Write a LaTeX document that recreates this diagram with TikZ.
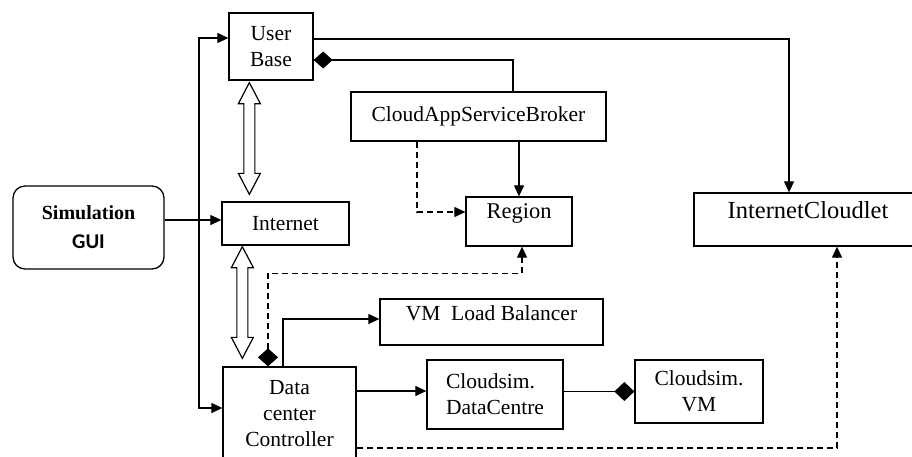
\documentclass[tikz,border=0pt]{standalone}
\usepackage{fontspec}
\setmainfont{Liberation Serif}
\newfontfamily\guifont{Carlito}
\usetikzlibrary{arrows.meta,calc}
\begin{document}
\begin{tikzpicture}[x=1pt,y=-1pt,
  box/.style={draw, line width=1.3pt, inner sep=0pt, align=center,
    font=\fontsize{21.5}{26}\selectfont},
  conn/.style={line width=1.2pt},
  arr/.style={conn,-{Triangle[length=11pt,width=10pt]}},
  darr/.style={arr, dash pattern=on 6pt off 4pt},
  diam/.style={conn,{Diamond[length=19pt,width=17pt]}-},
  hollow/.style={draw, line width=1.2pt, fill=white, line join=miter}
]
\useasboundingbox (0,0) rectangle (912,456);
\clip (0,0) rectangle (912,456);

% boxes
\node[box, rounded corners=12pt, minimum width=151pt, minimum height=83pt,
  font=\fontsize{20}{29}\selectfont] (gui) at (88.5,227.5)
  {{\bfseries Simulation}\\{\guifont\bfseries\fontsize{21}{29}\selectfont GUI}};
\node[box, minimum width=84pt, minimum height=67pt] (ub) at (271,46.5) {User\\Base};
\node[box, minimum width=127pt, minimum height=43pt] (inet) at (285.5,223.5) {Internet};
\node[box, minimum width=255pt, minimum height=49pt] (broker) at (478.5,116.5) {CloudAppServiceBroker};
\node[box, minimum width=106pt, minimum height=49pt, text height=16pt, text depth=23pt,
  font=\fontsize{22.5}{26}\selectfont] (region) at (519,221.5) {Region};
\node[box, minimum width=228pt, minimum height=53pt, text height=17pt, text depth=20pt,
  font=\fontsize{24.5}{28}\selectfont] (icl) at (808,219.5) {InternetCloudlet};
\node[box, minimum width=223pt, minimum height=46pt, text height=15pt, text depth=19pt] (vmlb) at (491.5,322) {VM\ \ Load Balancer};
\node[box, minimum width=133pt, minimum height=94pt] (dc) at (289.5,414) {Data\\center\\Controller};
\node[box, minimum width=136pt, minimum height=69pt, align=left] (dcen) at (495,394.5) {Cloudsim.\\DataCentre};
\node[box, minimum width=128pt, minimum height=63pt] (vm) at (699,391.5) {Cloudsim.\\VM};

% hollow double arrows
\coordinate (h1a) at ($(ub.south west)+(21,2)$);
\coordinate (h1b) at ($(inet.north west)+(28,-7)$);
\coordinate (h2a) at ($(inet.south west)+(21,1)$);
\coordinate (h2b) at ($(dc.north west)+(20,-8)$);
\foreach \a/\b in {h1a/h1b, h2a/h2b}{
  \draw[hollow] let \p1=(\a), \p2=(\b) in
    (\x1,\y1) -- (\x1+11pt,\y1-21pt) -- (\x1+5.5pt,\y1-21pt) -- (\x1+5.5pt,\y2+21pt)
    -- (\x1+11pt,\y2+21pt) -- (\x1,\y2) -- (\x1-11pt,\y2+21pt) -- (\x1-5.5pt,\y2+21pt)
    -- (\x1-5.5pt,\y1-21pt) -- (\x1-11pt,\y1-21pt) -- cycle;
}

% GUI connections
\coordinate (jt) at (199,220);
\draw[arr] (gui.east |- jt) -- ([yshift=3.5pt]inet.west);
\draw[arr] (jt) |- ([yshift=8.5pt]ub.west);
\draw[arr] (jt) |- ([yshift=6pt]dc.west);

% User Base connections
\draw[arr] ([yshift=7.5pt]ub.east) -| ([xshift=-19pt]icl.north);
\draw[diam] ([yshift=-13.5pt]ub.east) -| ([xshift=34.5pt]broker.north);

% Broker to Region
\draw[arr] (broker.south -| region.north) -- (region.north);
\draw[darr] ([xshift=-61.5pt]broker.south) |- ([yshift=9.5pt]region.west);

% Data center controller connections
\draw[conn, dash pattern=on 6pt off 4pt,
  {Diamond[length=18pt,width=20pt]}-{Triangle[length=11pt,width=10pt]}]
  ([xshift=-21.5pt]dc.north) -- ++(0,-93) -| ([xshift=3pt]region.south);
\draw[arr] ([xshift=-6.5pt]dc.north) |- ([yshift=3pt]vmlb.west);
\draw[arr] (dc.east |- dcen.west) ++(0,-3.5) -- ([yshift=3.5pt]dcen.west);
\draw[conn,-{Diamond[length=20pt,width=19pt]}] (dcen.east |- vm.west) -- (vm.west);
\draw[darr] ([yshift=-34pt]dc.east) -| ([xshift=29pt]icl.south);
\end{tikzpicture}
\end{document}
